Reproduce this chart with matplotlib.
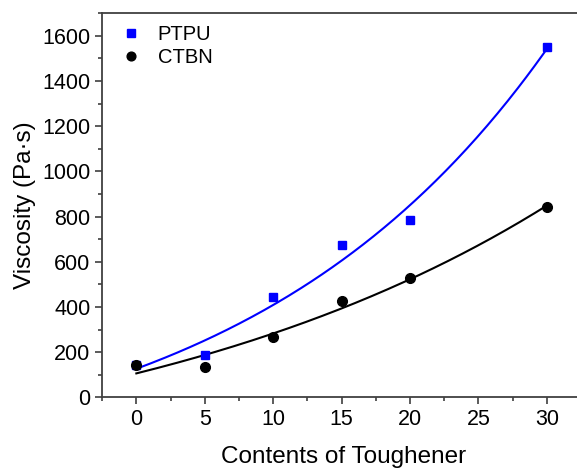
import numpy as np
import matplotlib
matplotlib.use("Agg")
import matplotlib.pyplot as plt
from matplotlib.ticker import MultipleLocator

plt.rcParams['font.family'] = ['Liberation Sans', 'DejaVu Sans']

contents = [0, 5, 10, 15, 20, 30]
ptpu = [143, 188, 445, 672, 784, 1551]
ctbn = [143, 135, 266, 427, 526, 843]


def exp_fit(x, y):
    x = np.asarray(x, float)
    y = np.asarray(y, float)
    best = None
    for b in np.linspace(0.001, 0.3, 3000):
        M = np.column_stack([np.ones_like(x), np.exp(b * x)])
        coef, *_ = np.linalg.lstsq(M, y, rcond=None)
        r = np.sum((M @ coef - y) ** 2)
        if best is None or r < best[0]:
            best = (r, b, coef)
    _, b, coef = best
    return lambda t: coef[0] + coef[1] * np.exp(b * t)


fig = plt.figure(figsize=(5.77, 4.68), dpi=100)
ax = fig.add_axes([0.177, 0.151, 0.83, 0.821])

xs = np.linspace(0, 30, 200)
f1 = exp_fit(contents, ptpu)
f2 = exp_fit(contents, ctbn)
ax.plot(xs, f1(xs), color='#0000ff', lw=1.5, zorder=2)
ax.plot(xs, f2(xs), color='black', lw=1.5, zorder=2)
ax.plot(contents, ptpu, 's', color='#0000ff', ms=6, ls='none', label='PTPU', zorder=3)
ax.plot(contents, ctbn, 'o', color='black', ms=7, ls='none', label='CTBN', zorder=3)

ax.set_xlim(-2.5, 32.5)
ax.set_ylim(0, 1700)
ax.xaxis.set_major_locator(MultipleLocator(5))
ax.xaxis.set_minor_locator(MultipleLocator(2.5))
ax.yaxis.set_major_locator(MultipleLocator(200))
ax.yaxis.set_minor_locator(MultipleLocator(100))

for s in ['left', 'bottom', 'top']:
    ax.spines[s].set_color('#404040')
    ax.spines[s].set_linewidth(1.3)
ax.spines['right'].set_visible(False)
ax.tick_params(which='major', direction='out', length=5, width=1.2, color='#404040',
               labelsize=15.5, top=False, right=False, pad=3.5)
ax.tick_params(which='minor', direction='out', length=3, width=1.2, color='#404040',
               top=False, right=False)

ax.set_xlabel('Contents of Toughener', fontsize=17.5)
ax.set_ylabel('Viscosity (Pa\u00b7s)', fontsize=17.5)
ax.xaxis.label.set_verticalalignment('center')
ax.yaxis.label.set_verticalalignment('center')
ax.xaxis.set_label_coords(0.5 - (0.5 - (343 - 102) / 478.9), -0.155)
ax.yaxis.set_label_coords(-0.161, 0.5)

ax.legend(loc='upper left', frameon=False, fontsize=14.5, handletextpad=0.35,
          borderaxespad=0.2, labelspacing=0.2, markerscale=0.9,
          bbox_to_anchor=(-0.008, 1.0))

fig.savefig('out.png', dpi=100)
